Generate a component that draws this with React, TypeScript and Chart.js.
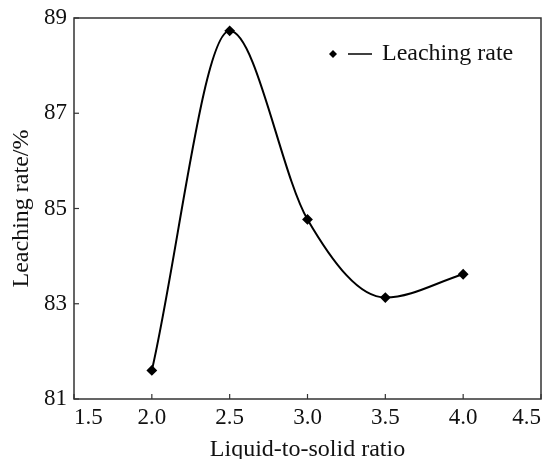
import React, { useEffect, useRef } from "react";
import { Chart, registerables } from "chart.js";

Chart.register(...registerables);

const ratios = [2.0, 2.5, 3.0, 3.5, 4.0];
const leachingRate = [81.6, 88.73, 84.77, 83.13, 83.62];
const seriesLabel = "Leaching rate";
const xTitle = "Liquid-to-solid ratio";
const yTitle = "Leaching rate/%";
const xTicks = [1.5, 2.0, 2.5, 3.0, 3.5, 4.0, 4.5];
const yTicks = [81, 83, 85, 87, 89];

const FONT = "'Liberation Serif', 'Times New Roman', serif";

const framePlugin = {
  id: "frameTicks",
  afterDraw(chart: any) {
    const { ctx, chartArea, scales } = chart;
    ctx.save();
    ctx.strokeStyle = "#333";
    ctx.lineWidth = 1.5;
    ctx.strokeRect(chartArea.left, chartArea.top, chartArea.right - chartArea.left, chartArea.bottom - chartArea.top);
    ctx.lineWidth = 1.2;
    const tl = 5;
    scales.x.ticks.forEach((t: any) => {
      const x = scales.x.getPixelForValue(t.value);
      ctx.beginPath();
      ctx.moveTo(x, chartArea.bottom);
      ctx.lineTo(x, chartArea.bottom - tl);
      ctx.stroke();
    });
    scales.y.ticks.forEach((t: any) => {
      const y = scales.y.getPixelForValue(t.value);
      ctx.beginPath();
      ctx.moveTo(chartArea.left, y);
      ctx.lineTo(chartArea.left + tl, y);
      ctx.stroke();
    });
    // legend
    const ly = chartArea.top + 36;
    const lx = chartArea.left + 259;
    ctx.fillStyle = "#000";
    ctx.beginPath();
    ctx.moveTo(lx, ly - 4);
    ctx.lineTo(lx + 4, ly);
    ctx.lineTo(lx, ly + 4);
    ctx.lineTo(lx - 4, ly);
    ctx.closePath();
    ctx.fill();
    ctx.strokeStyle = "#000";
    ctx.lineWidth = 1.5;
    ctx.beginPath();
    ctx.moveTo(lx + 15, ly);
    ctx.lineTo(lx + 39, ly);
    ctx.stroke();
    ctx.font = `24px ${FONT}`;
    ctx.textBaseline = "middle";
    ctx.textAlign = "left";
    ctx.fillStyle = "#111";
    ctx.fillText(seriesLabel, lx + 49, ly);
    ctx.restore();
  },
};

export default function App() {
  const ref = useRef<HTMLCanvasElement>(null);
  useEffect(() => {
    document.body.style.margin = "0";
    const chart = new Chart(ref.current!, {
      type: "line",
      data: {
        datasets: [
          {
            label: seriesLabel,
            data: ratios.map((r, i) => ({ x: r, y: leachingRate[i] })),
            borderColor: "#000",
            backgroundColor: "#000",
            borderWidth: 2,
            cubicInterpolationMode: "monotone",
            pointStyle: "rectRot",
            pointRadius: 4,
            pointHoverRadius: 4,
          },
        ],
      },
      options: {
        animation: false,
        responsive: false,
        maintainAspectRatio: false,
        layout: { padding: { top: 18, right: 11, left: 0, bottom: 0 } },
        plugins: { legend: { display: false }, tooltip: { enabled: false } },
        scales: {
          x: {
            type: "linear",
            min: xTicks[0],
            max: xTicks[xTicks.length - 1],
            grid: { display: false, drawTicks: false },
            border: { display: false },
            afterBuildTicks: (s: any) => {
              s.ticks = xTicks.map((v) => ({ value: v }));
            },
            ticks: {
              color: "#111",
              padding: 7,
              align: "inner",
              font: { family: FONT, size: 23, lineHeight: 1 },
              callback: (v: any) => Number(v).toFixed(1),
            },
            title: {
              display: true,
              text: xTitle,
              color: "#111",
              font: { family: FONT, size: 24, lineHeight: 1 },
              padding: { top: 0, bottom: -3 },
            },
            afterFit: (s: any) => {
              s.height = 60;
              s.paddingLeft = 0;
              s.paddingRight = 0;
            },
          },
          y: {
            min: yTicks[0],
            max: yTicks[yTicks.length - 1],
            grid: { display: false, drawTicks: false },
            border: { display: false },
            afterBuildTicks: (s: any) => {
              s.ticks = yTicks.map((v) => ({ value: v }));
            },
            ticks: {
              color: "#111",
              padding: 7,
              font: { family: FONT, size: 23, lineHeight: 1 },
            },
            title: {
              display: true,
              text: yTitle,
              color: "#111",
              font: { family: FONT, size: 24, lineHeight: 1 },
              padding: { top: 10, bottom: 0 },
            },
            afterFit: (s: any) => {
              s.width = 74;
              s.paddingTop = 0;
              s.paddingBottom = 0;
            },
          },
        },
      },
      plugins: [framePlugin],
    });
    return () => chart.destroy();
  }, []);
  return (
    <div style={{ width: 552, height: 459, background: "#fff" }}>
      <canvas ref={ref} width={552} height={459} />
    </div>
  );
}
